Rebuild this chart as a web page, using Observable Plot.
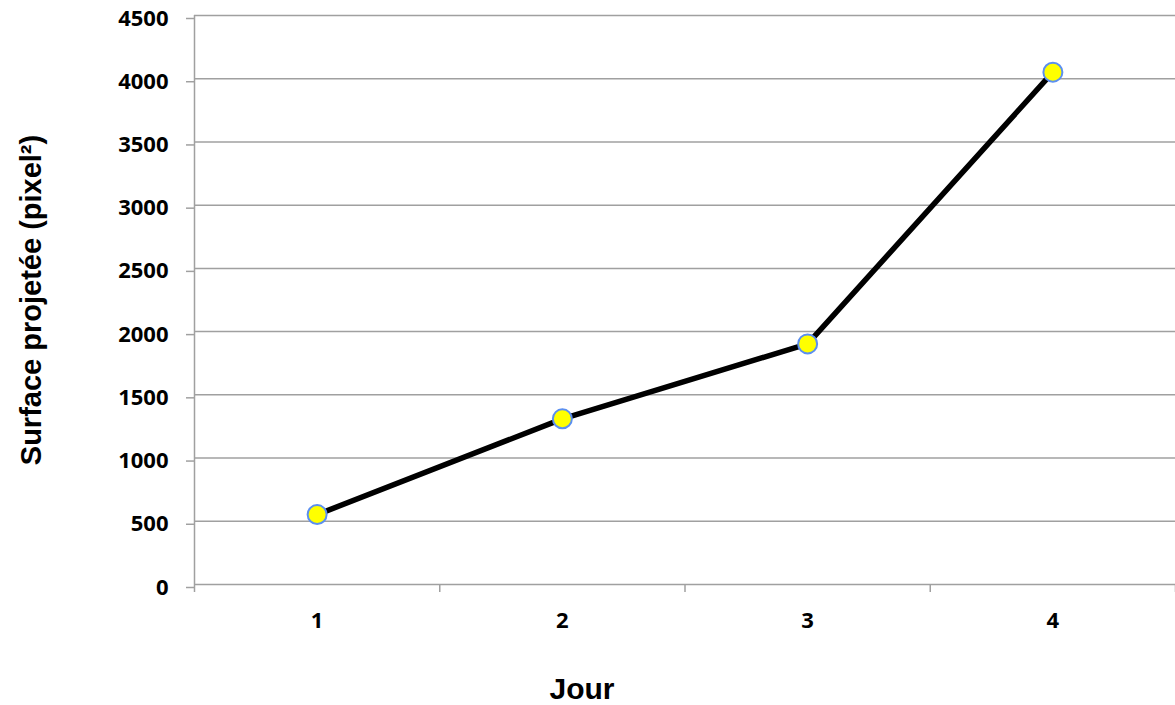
<!DOCTYPE html>
<html>
<head>
<meta charset="utf-8">
<script src="https://cdn.jsdelivr.net/npm/d3@7"></script>
<script src="https://cdn.jsdelivr.net/npm/@observablehq/plot@0.6"></script>
<style>
  html, body { margin: 0; padding: 0; background: #ffffff; }
  #chart svg { display: block; overflow: visible; }
</style>
</head>
<body>
<div id="chart"></div>
<script>
const days = [1, 2, 3, 4];
const surface = [553, 1310, 1903, 4052];
const yTicks = [0, 500, 1000, 1500, 2000, 2500, 3000, 3500, 4000, 4500];
const xTitle = "Jour";
const yTitle = "Surface projetée (pixel²)";

const data = days.map((d, i) => ({day: d, value: surface[i]}));
const boundaries = [days[0] - 0.5, ...days.map(d => d + 0.5)];

const gridColor = "#a0a0a0";
const tickFont = "'Open Sans', sans-serif";
const titleFont = "'Liberation Sans', Arial, sans-serif";

const chart = Plot.plot({
  width: 1175,
  height: 705,
  marginLeft: 194,
  marginRight: 0,
  marginTop: 15,
  marginBottom: 121,
  style: {background: "#ffffff", color: "#000000"},
  x: {domain: [days[0] - 0.5, days[days.length - 1] + 0.5], axis: null},
  y: {domain: [0, 4500], axis: null},
  marks: [
    Plot.gridY(yTicks, {stroke: gridColor, strokeOpacity: 1, strokeWidth: 1.5}),
    Plot.ruleX([boundaries[0]], {y1: 0, y2: 4500, stroke: gridColor, strokeWidth: 1.5}),
    Plot.axisY(yTicks, {
      anchor: "left", tickSize: 8, tickPadding: 18, stroke: gridColor, strokeWidth: 1.5,
      color: "#000000", fontSize: 22, fontWeight: "bold", fontFamily: tickFont,
      tickFormat: d => String(d), label: null, dy: 3
    }),
    Plot.axisX(boundaries, {
      anchor: "bottom", tickSize: 8, stroke: gridColor, strokeWidth: 1.5,
      text: null, label: null
    }),
    Plot.axisX(days, {
      anchor: "bottom", tickSize: 0, tickPadding: 28, color: "#000000",
      fontSize: 22, fontWeight: "bold", fontFamily: tickFont,
      tickFormat: d => String(d), label: null
    }),
    Plot.line(data, {x: "day", y: "value", stroke: "#000000", strokeWidth: 5.5}),
    Plot.dot(data, {x: "day", y: "value", r: 9.5, fill: "#ffff00", stroke: "#5b8ff0", strokeWidth: 2}),
    Plot.text([yTitle], {
      frameAnchor: "left", dx: -163, rotate: -90, text: d => d,
      textAnchor: "middle", lineAnchor: "middle",
      fontSize: 29, fontWeight: "bold", fontFamily: titleFont, fill: "#000000"
    }),
    Plot.text([xTitle], {
      frameAnchor: "bottom", dx: -103, dy: 105, text: d => d, lineAnchor: "middle",
      fontSize: 30, fontWeight: "bold", fontFamily: titleFont, fill: "#000000"
    })
  ]
});

document.getElementById("chart").appendChild(chart);
</script>
</body>
</html>
